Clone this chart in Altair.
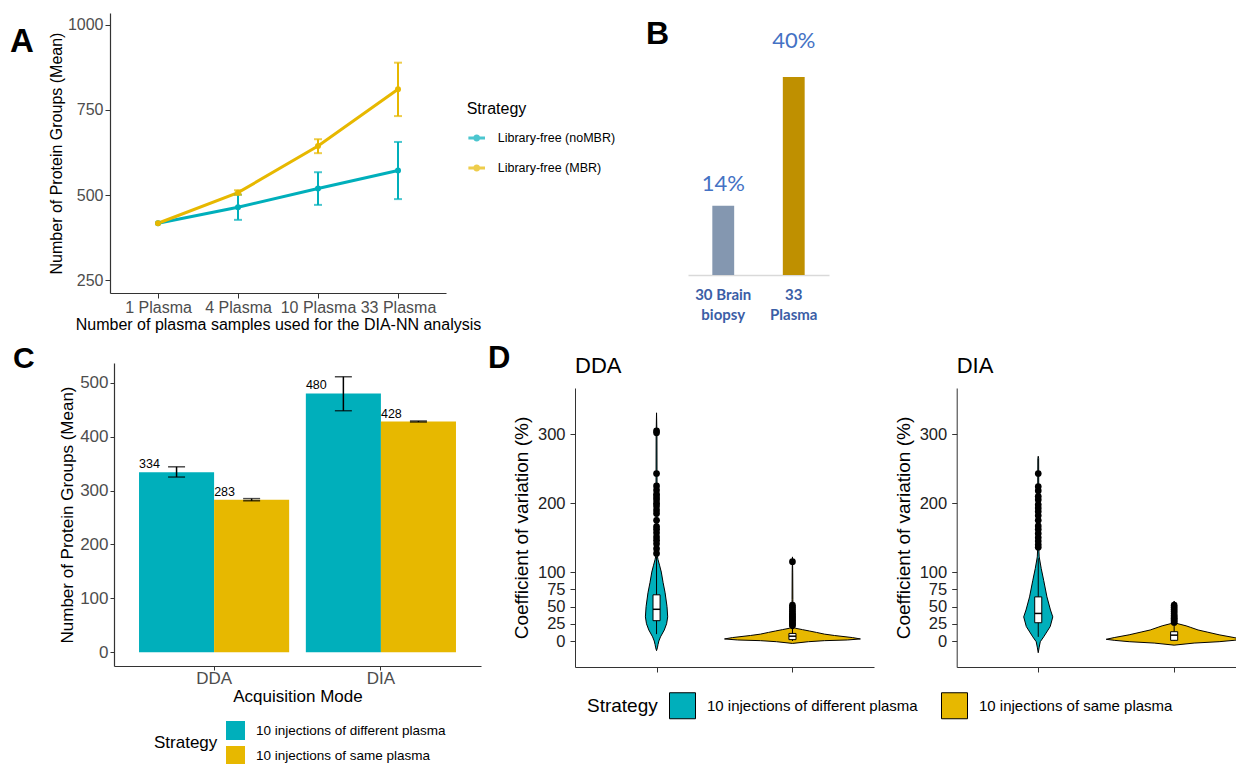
import altair as alt
import pandas as pd

FONT = "Liberation Sans"
BFONT = "Lato"
TEAL = "#00AFBB"
GOLD = "#E7B800"
W, H = 1228, 756

# ---------------- Panel A data ----------------
a_samples = ["1 Plasma", "4 Plasma", "10 Plasma", "33 Plasma"]
a_strategies = ["Library-free (noMBR)", "Library-free (MBR)"]
a_nombr_mean = [417, 464, 519, 572]
a_nombr_lo = [417, 427, 471, 488]
a_nombr_hi = [417, 501, 567, 656]
a_mbr_mean = [417, 507, 644, 811]
a_mbr_lo = [417, 501, 623, 732]
a_mbr_hi = [417, 514, 664, 889]

# ---------------- Panel B data ----------------
b_categories = ["30 Brain\nbiopsy", "33\nPlasma"]
b_percent = [14, 40]
b_colors = ["#8497B0", "#BF9000"]

# ---------------- Panel C data ----------------
c_modes = ["DDA", "DIA"]
strategies = ["10 injections of different plasma", "10 injections of same plasma"]
c_diff_mean = [334, 480]
c_diff_lo = [325, 448]
c_diff_hi = [344, 511]
c_same_mean = [283, 428]
c_same_lo = [281, 427]
c_same_hi = [285, 429]

# ---------------- Panel D data ----------------
# violin outlines: CV (%) and half-width (in category units)
dda_diff_cv = [-14, -10, -5, 0, 6, 16, 25, 35, 50, 70, 85, 100, 110, 118, 125, 200, 300, 331]
dda_diff_hw = [0, 0.006, 0.011, 0.017, 0.029, 0.057, 0.074, 0.082, 0.077, 0.063, 0.048, 0.035, 0.022, 0.011, 0.004, 0.004, 0.003, 0]
dda_same_cv = [-3.5, -1, 0.5, 1.5, 3, 5, 8, 10, 12.5, 14.5, 16.5, 18.5, 21, 30, 60, 100, 122]
dda_same_hw = [0, 0.118, 0.235, 0.404, 0.5, 0.441, 0.309, 0.235, 0.176, 0.125, 0.074, 0.022, 0.006, 0.004, 0.003, 0.002, 0]
dia_diff_cv = [-17, -10, -1, 6, 21, 35, 45, 64, 88, 105, 122, 135, 200, 265, 268]
dia_diff_hw = [0, 0.006, 0.015, 0.040, 0.088, 0.107, 0.090, 0.064, 0.040, 0.022, 0.007, 0.004, 0.004, 0.003, 0]
dia_same_cv = [-6, -3, -1, 1, 2.5, 5, 9, 13, 16, 20, 22, 25, 27, 40, 55, 58]
dia_same_hw = [0, 0.147, 0.331, 0.441, 0.5, 0.441, 0.331, 0.243, 0.176, 0.118, 0.088, 0.029, 0.006, 0.004, 0.002, 0]

# boxplot stats per strategy [different, same]
dda_box_low = [10, 0]
dda_box_q1 = [29.5, 2]
dda_box_med = [46, 7]
dda_box_q3 = [67, 11]
dda_box_high = [122, 20]
dia_box_low = [6, 0]
dia_box_q1 = [26.5, 1]
dia_box_med = [40, 8.5]
dia_box_q3 = [64, 13.5]
dia_box_high = [120, 26]

dda_diff_out = [127, 134, 141, 146, 151, 157, 162, 166, 175, 185, 190, 196, 200, 205, 209, 213, 219, 225, 243, 302, 305]
dda_same_out = [22, 24, 26, 28, 30, 32, 34, 36, 38, 40, 43, 46, 49, 52, 115]
dia_diff_out = [136, 140, 145, 150, 156, 162, 167, 175, 182, 188, 193, 198, 205, 210, 218, 224, 243]
dia_same_out = [27, 29, 31, 33, 35, 37, 40, 43, 46, 49, 52]

BOX_HW = 0.026


def axis(orient, offset, title, **kw):
    base = dict(orient=orient, offset=offset, grid=False, labelFont=FONT, titleFont=FONT,
                titleFontWeight="normal", titleColor="black", domainColor="#333333",
                tickColor="#333333", labelOverlap=False)
    base.update(kw)
    if title is None:
        return alt.Axis(title=None, **base)
    return alt.Axis(title=title, **base)


# ======================= Panel A =======================
dfA = pd.DataFrame({
    "sample": a_samples * 2,
    "strategy": [a_strategies[0]] * 4 + [a_strategies[1]] * 4,
    "mean": a_nombr_mean + a_mbr_mean,
    "lo": a_nombr_lo + a_mbr_lo,
    "hi": a_nombr_hi + a_mbr_hi,
})
scA_x = alt.Scale(type="point", domain=a_samples, range=[102, 438], padding=0.6)
axA_x = axis("bottom", 285 - H, "Number of plasma samples used for the DIA-NN analysis",
             labelAngle=0, labelFontSize=16, titleFontSize=16, labelColor="#4D4D4D",
             tickSize=5, labelPadding=1, titlePadding=1, domainWidth=1.2)
scA_y = alt.Scale(domain=[212, 1035], range=[285, 5], nice=False, zero=False)
axA_y = axis("left", -102, "Number of Protein Groups (Mean)", values=[250, 500, 750, 1000],
             format="d", labelFontSize=16, titleFontSize=16, labelColor="#4D4D4D", tickSize=5,
             labelPadding=2, titlePadding=3, domainWidth=1.2)
legA = alt.Legend(orient="none", legendX=458.7, legendY=93, title="Strategy",
                  titleFontSize=16, titleColor="black", labelFontSize=12.5, labelColor="black",
                  symbolType="M-1,0L1,0M-0.25,0A0.25,0.25,0,1,1,0.25,0A0.25,0.25,0,1,1,-0.25,0",
                  symbolSize=276, symbolStrokeWidth=3, rowPadding=11, titlePadding=11,
                  labelOffset=11, padding=0)
colA = alt.Color("strategy:N", scale=alt.Scale(domain=a_strategies, range=[TEAL, GOLD]), legend=legA)
xA = alt.X("sample:N", scale=scA_x, axis=axA_x, sort=a_samples)
baseA = alt.Chart(dfA)
lineA = baseA.mark_line(strokeWidth=3).encode(
    x=xA, y=alt.Y("mean:Q", scale=scA_y, axis=axA_y), color=colA)
errA = baseA.transform_filter("datum.hi > datum.lo").mark_rule(strokeWidth=2).encode(
    x=xA, y=alt.Y("lo:Q", scale=scA_y, axis=axA_y), y2="hi:Q", color=colA)
capsA = baseA.transform_filter("datum.hi > datum.lo").transform_fold(
    ["lo", "hi"], as_=["end", "val"]).mark_tick(size=8, thickness=2).encode(
    x=xA, y=alt.Y("val:Q", scale=scA_y, axis=axA_y), color=colA)
ptsA = baseA.mark_circle(size=36, opacity=1).encode(
    x=xA, y=alt.Y("mean:Q", scale=scA_y, axis=axA_y), color=colA)
panelA = alt.layer(lineA, errA, capsA, ptsA)

# ======================= Panel B =======================
dfB = pd.DataFrame({"cat": b_categories, "value": b_percent})
scB_x = alt.Scale(domain=b_categories, range=[680, 821], paddingInner=0.69, paddingOuter=0.345)
axB_x = alt.Axis(orient="bottom", offset=267 - H, title=None, grid=False, domainColor="#D9D9D9",
                 domainWidth=1.3, ticks=False, tickSize=0, labelAngle=0,
                 labelExpr="split(datum.value, '\\n')", labelFont=BFONT, labelFontWeight="bold",
                 labelFontSize=15, labelColor="#3B5EA6", labelLineHeight=20, labelPadding=12,
                 labelBaseline="top")
scB_y = alt.Scale(domain=[0, 40], range=[267, 69], nice=False, zero=False)
xB = alt.X("cat:N", scale=scB_x, axis=axB_x, sort=b_categories)
yB = alt.Y("value:Q", scale=scB_y, axis=None)
barsB = alt.Chart(dfB).mark_bar().encode(
    x=xB, y=yB,
    color=alt.Color("cat:N", scale=alt.Scale(domain=b_categories, range=b_colors), legend=None))
txtB_low = alt.Chart(dfB).transform_filter("datum.value < 30").transform_calculate(
    lab="datum.value + '%'").mark_text(baseline="bottom", dy=-10, font=BFONT, fontSize=22,
                                       color="#4472C4").encode(x=xB, y=yB, text="lab:N")
txtB_high = alt.Chart(dfB).transform_filter("datum.value >= 30").transform_calculate(
    lab="datum.value + '%'").mark_text(baseline="bottom", dy=-24, font=BFONT, fontSize=22,
                                       color="#4472C4").encode(x=xB, y=yB, text="lab:N")
panelB = alt.layer(barsB, txtB_low, txtB_high)

# ======================= Panel C =======================
dfC = pd.DataFrame({
    "mode": c_modes * 2,
    "strategy": [strategies[0]] * 2 + [strategies[1]] * 2,
    "mean": c_diff_mean + c_same_mean,
    "lo": c_diff_lo + c_same_lo,
    "hi": c_diff_hi + c_same_hi,
})
scC_x = alt.Scale(domain=c_modes, range=[106, 473], paddingInner=0.1, paddingOuter=0.15)
axC_x = axis("bottom", 658 - H, "Acquisition Mode", labelAngle=0, labelFontSize=17,
             titleFontSize=17, labelColor="#4D4D4D", tickSize=4, labelPadding=0, titlePadding=2,
             domainWidth=1.2)
scC_y = alt.Scale(domain=[-25.4, 536.5], range=[658, 355], nice=False, zero=False)
axC_y = axis("left", -106, "Number of Protein Groups (Mean)", values=[0, 100, 200, 300, 400, 500],
             labelFontSize=17, titleFontSize=17, labelColor="#4D4D4D", tickSize=4,
             labelPadding=2, titlePadding=3, domainWidth=1.2)
legC = alt.Legend(orient="none", legendX=146, legendY=713, title="Strategy", titleOrient="left",
                  titleAnchor="middle", titleBaseline="middle", titleFontSize=17,
                  titleColor="black", labelFontSize=13.5, labelColor="black", labelLimit=400,
                  symbolType="square", symbolSize=361, symbolStrokeWidth=0, rowPadding=6,
                  labelOffset=11, titlePadding=8, padding=0)
xC = alt.X("mode:N", scale=scC_x, axis=axC_x, sort=c_modes)
xoC = alt.XOffset("strategy:N", scale=alt.Scale(domain=strategies), sort=strategies)
barsC = alt.Chart(dfC).mark_bar().encode(
    x=xC, xOffset=xoC, y=alt.Y("mean:Q", scale=scC_y, axis=axC_y),
    color=alt.Color("strategy:N", scale=alt.Scale(domain=strategies, range=[TEAL, GOLD]), legend=legC))
errC = alt.Chart(dfC).mark_rule(color="black", strokeWidth=1.5).encode(
    x=xC, xOffset=xoC, y=alt.Y("lo:Q", scale=scC_y, axis=axC_y), y2="hi:Q")
capsC = alt.Chart(dfC).transform_fold(["lo", "hi"], as_=["end", "val"]).mark_tick(
    color="black", size=17, thickness=1.5).encode(
    x=xC, xOffset=xoC, y=alt.Y("val:Q", scale=scC_y, axis=axC_y))
txtC = alt.Chart(dfC).mark_text(align="left", baseline="bottom", dx=-37.5, dy=-1, fontSize=12.5,
                                font=FONT, color="black").encode(
    x=xC, xOffset=xoC, y=alt.Y("mean:Q", scale=scC_y, axis=axC_y), text="mean:Q")
panelC = alt.layer(barsC, errC, capsC, txtC)

# ======================= Panel D =======================
d_profiles = {
    "DDA": [(dda_diff_cv, dda_diff_hw), (dda_same_cv, dda_same_hw)],
    "DIA": [(dia_diff_cv, dia_diff_hw), (dia_same_cv, dia_same_hw)],
}
d_boxes = {
    "DDA": (dda_box_low, dda_box_q1, dda_box_med, dda_box_q3, dda_box_high),
    "DIA": (dia_box_low, dia_box_q1, dia_box_med, dia_box_q3, dia_box_high),
}
d_outliers = {"DDA": [dda_diff_out, dda_same_out], "DIA": [dia_diff_out, dia_same_out]}

legD = alt.Legend(orient="none", legendX=579, legendY=684, direction="horizontal", title="Strategy",
                  titleOrient="left", titleAnchor="middle", titleBaseline="middle",
                  titleFontSize=19, titleColor="black", labelFontSize=15, labelColor="black",
                  labelLimit=400, symbolType="square", symbolSize=676, symbolStrokeColor="black",
                  symbolStrokeWidth=1, labelOffset=11, columnPadding=21, titlePadding=11,
                  padding=0)


def panel_D(mode, xrange, legend):
    vrows = []
    for i, (cvs, hws) in enumerate(d_profiles[mode]):
        for cv, hw in zip(cvs, hws):
            vrows.append({"strategy": strategies[i], "pos": i + 1, "cv": cv, "hw": hw})
    dv = pd.DataFrame(vrows)
    lo, q1, md, q3, hi = d_boxes[mode]
    db = pd.DataFrame({"strategy": strategies, "pos": [1, 2], "lo": lo, "q1": q1,
                       "med": md, "q3": q3, "hi": hi})
    orows = []
    for i, outs in enumerate(d_outliers[mode]):
        for v in outs:
            orows.append({"strategy": strategies[i], "pos": i + 1, "cv": v})
    do = pd.DataFrame(orows)

    sx = alt.Scale(domain=[0.4, 2.6], range=list(xrange), nice=False, zero=False)
    ax = axis("bottom", 659 - H, None, values=[1, 2], labels=False, tickSize=5)
    sy = alt.Scale(domain=[-37.7, 367], range=[659, 380], nice=False, zero=False)
    ay = axis("left", -xrange[0], "Coefficient of variation (%)",
              values=[0, 25, 50, 75, 100, 200, 300], labelFontSize=16.5, titleFontSize=19,
              labelColor="#222222", tickSize=5, labelPadding=5, titlePadding=6)
    col = alt.Color("strategy:N", scale=alt.Scale(domain=strategies, range=[TEAL, GOLD]),
                    legend=legend)

    violin = alt.Chart(dv).transform_calculate(
        x_left="datum.pos - datum.hw", x_right="datum.pos + datum.hw"
    ).mark_area(orient="horizontal", stroke="black", strokeWidth=1, opacity=1).encode(
        y=alt.Y("cv:Q", scale=sy, axis=ay),
        x=alt.X("x_left:Q", scale=sx, axis=ax, stack=None),
        x2="x_right:Q",
        color=col,
    )
    whisk = alt.Chart(db).mark_rule(color="black", strokeWidth=1).encode(
        x=alt.X("pos:Q", scale=sx, axis=ax),
        y=alt.Y("lo:Q", scale=sy, axis=ay), y2="hi:Q")
    box = alt.Chart(db).transform_calculate(
        bl=f"datum.pos - {BOX_HW}", br=f"datum.pos + {BOX_HW}"
    ).mark_rect(fill="white", stroke="black", strokeWidth=1).encode(
        x=alt.X("bl:Q", scale=sx, axis=ax), x2="br:Q",
        y=alt.Y("q1:Q", scale=sy, axis=ay), y2="q3:Q")
    med = alt.Chart(db).transform_calculate(
        bl=f"datum.pos - {BOX_HW}", br=f"datum.pos + {BOX_HW}"
    ).mark_rule(color="black", strokeWidth=1.5).encode(
        x=alt.X("bl:Q", scale=sx, axis=ax), x2="br:Q",
        y=alt.Y("med:Q", scale=sy, axis=ay))
    outl = alt.Chart(do).mark_circle(size=45, color="black", opacity=1).encode(
        x=alt.X("pos:Q", scale=sx, axis=ax), y=alt.Y("cv:Q", scale=sy, axis=ay))
    ttl = alt.Chart(pd.DataFrame({"t": [mode]})).mark_text(
        align="left", baseline="alphabetic", fontSize=22, font=FONT, color="black").encode(
        text="t:N", x=alt.value(xrange[0]), y=alt.value(365.3))
    return alt.layer(violin, whisk, box, med, outl, ttl)


panelDDA = panel_D("DDA", (567, 866), legD)
panelDIA = panel_D("DIA", (948.7, 1247.7), None)

# ======================= Panel letters =======================
letter_specs = [("A", 2, 44, 33), ("B", 638, 36, 32), ("C", 5, 360, 30), ("D", 480, 359.7, 31)]
letter_layers = []
for t, lx, ly, fs in letter_specs:
    letter_layers.append(
        alt.Chart(pd.DataFrame({"t": [t]})).mark_text(
            align="left", baseline="alphabetic", fontSize=fs, fontWeight="bold", font=FONT,
            color="black").encode(text="t:N", x=alt.value(lx), y=alt.value(ly)))

chart = alt.layer(panelA, panelB, panelC, panelDDA, panelDIA, *letter_layers).resolve_scale(
    x="independent", y="independent", color="independent"
).properties(
    width=W, height=H, autosize=alt.AutoSizeParams(type="none"), padding=0, background="white"
).configure_view(stroke=None).configure_axis(
    labelFont=FONT, titleFont=FONT
).configure_legend(
    labelFont=FONT, titleFont=FONT, titleFontWeight="normal"
).configure_text(font=FONT)

chart.save("out.html", embed_options={"renderer": "svg", "actions": False})
